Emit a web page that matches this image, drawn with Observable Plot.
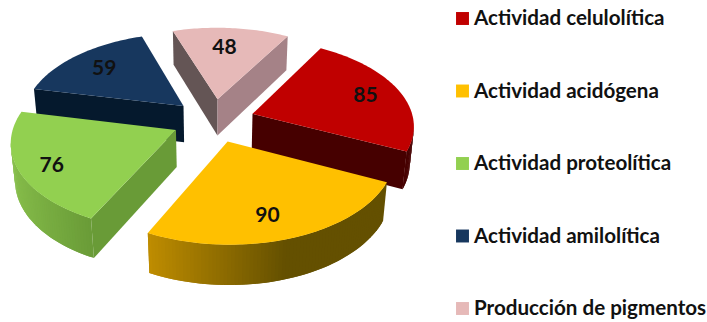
<!doctype html>
<html>
<head>
<meta charset="utf-8">
<style>html,body{margin:0;background:#fff}</style>
<script src="https://cdn.jsdelivr.net/npm/d3@7"></script>
<script src="https://cdn.jsdelivr.net/npm/@observablehq/plot@0.6"></script>
</head>
<body>
<div id="chart"></div>
<script>
// Actividades enzimáticas: number of strains per activity
const categories = ["Actividad celulolítica", "Actividad acidógena", "Actividad proteolítica", "Actividad amilolítica", "Producción de pigmentos"];
const values = [85, 90, 76, 59, 48];
const topColors = ["#C00000", "#FFC000", "#92D050", "#17375E", "#E6B9B8"];
// Side-wall shading: colour at the low and high end of the horizontal normal range
const sideColors = [["#460000", "#460000"], ["#be8c00", "#645000"], ["#87be4b", "#699b37"], ["#05192d", "#05192d"], ["#645555", "#a58287"]];
const sideNormalRange = [[-1, 1], [-0.43, 0.3], [-0.98, -0.43], [-1, 1], [-0.95, 0.87]];
// Where each value sits on its slice: radius, and fraction of the slice's sweep
const labelRadius = [0.77, 0.77, 0.81, 0.73, 0.71];
const labelSweep = [0.5, 0.54, 0.47, 0.5, 0.465];
const paintOrder = [4, 3, 0, 2, 1]; // back to front

// Camera and pie solid
const width = 707, height = 322;
const view = {cx: 213.03, cy: 119.75, scale: 161.03, elevation: 0.5564, distance: 6.94};
const pieStart = 0.5216, pieDepth = 0.275, explode = 0.256;

const project = (X, Y, Z) => {
  const {cx, cy, scale, elevation, distance} = view;
  const up = Y * Math.sin(elevation) + Z * Math.cos(elevation);
  const far = Y * Math.cos(elevation) - Z * Math.sin(elevation);
  const s = distance / (distance + far);
  return {x: cx + scale * X * s, y: cy - scale * up * s};
};

const arcs = d3.pie().sort(null).startAngle(pieStart).endAngle(pieStart + 2 * Math.PI)(values);

const point = (i, r, t, lower) => {
  const mid = (arcs[i].startAngle + arcs[i].endAngle) / 2;
  return project(explode * Math.sin(mid) + r * Math.sin(t), explode * Math.cos(mid) + r * Math.cos(t), lower ? -pieDepth : 0);
};

const sideColor = (i, nx) => {
  const [a, b] = sideNormalRange[i];
  const k = Math.max(0, Math.min(1, (nx - a) / (b - a)));
  return d3.interpolateRgb(sideColors[i][0], sideColors[i][1])(k);
};

const polygons = [];
let polygonId = 0;
const addPolygon = (vertices, fill) => {
  polygonId++;
  for (const v of vertices) polygons.push({x: v.x, y: v.y, id: polygonId, fill});
};
// A wall shows when its clockwise edge runs right to left on screen;
// "end" may reach past b so neighbouring facets overlap and leave no seam
const addWall = (i, a, b, nx, end = b) => {
  if (b.rt.x - a.rt.x >= 0) return;
  const far = end.rt.x < b.rt.x ? end : b;
  addPolygon([a.rt, far.rt, far.rb, a.rb], sideColor(i, nx));
};

for (const i of paintOrder) {
  const {startAngle: t0, endAngle: t1} = arcs[i];
  const count = Math.ceil((t1 - t0) / 0.02);
  const steps = d3.range(count + 1).map(k => t0 + (t1 - t0) * k / count);
  const node = (r, t) => ({rt: point(i, r, t, false), rb: point(i, r, t, true)});
  addWall(i, node(0, t0), node(1, t0), Math.sin(t0 - Math.PI / 2));
  steps.slice(1).forEach((t, k) => {
    const next = steps[Math.min(k + 2, count)];
    addWall(i, node(1, steps[k]), node(1, t), Math.sin((steps[k] + t) / 2), node(1, next));
  });
  addWall(i, node(1, t1), node(0, t1), Math.sin(t1 + Math.PI / 2));
  addPolygon([point(i, 0, 0, false), ...steps.map(t => point(i, 1, t, false))], topColors[i]);
}

const valueLabels = values.map((v, i) => {
  const t = arcs[i].startAngle + labelSweep[i] * (arcs[i].endAngle - arcs[i].startAngle);
  const p = point(i, labelRadius[i], t, false);
  return {x: p.x, y: p.y, text: String(v)};
});

// Legend column to the right of the pie
const legendX = 462, legendTextX = 473.5, legendTop = 18, legendStep = 72.5;
const legendRows = categories.map((name, i) => ({name, color: topColors[i], y: legendTop + i * legendStep}));

const chart = Plot.plot({
  width, height,
  margin: 0,
  x: {domain: [0, width], range: [0, width], axis: null},
  y: {domain: [0, height], range: [0, height], axis: null},
  color: {type: "identity"},
  marks: [
    Plot.line(polygons, {x: "x", y: "y", z: "id", fill: "fill", stroke: "none", curve: "linear-closed"}),
    Plot.text(valueLabels, {x: "x", y: "y", text: "text", fontSize: 21, fontWeight: 700, fill: "#111"}),
    Plot.dot(legendRows, {x: () => legendX, y: "y", symbol: "square", r: 7.3, fill: "color", stroke: "none"}),
    Plot.text(legendRows, {x: () => legendTextX, y: "y", text: "name", textAnchor: "start", fontSize: 20.6, fontWeight: 700, fill: "#111"})
  ],
  style: {fontFamily: "Lato, sans-serif", background: "#fff"}
});
document.getElementById("chart").append(chart);
</script>
</body>
</html>
